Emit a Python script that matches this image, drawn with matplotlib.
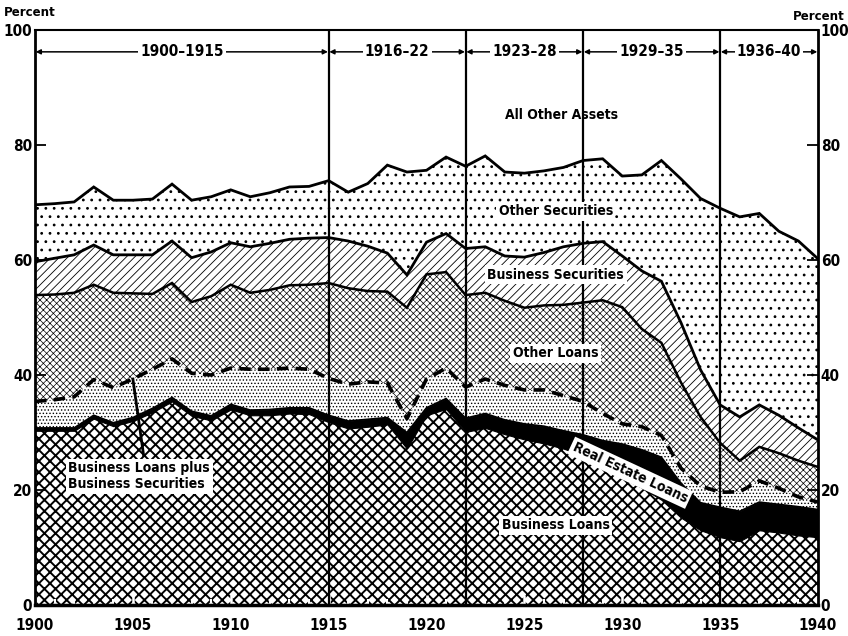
import matplotlib as mpl
mpl.use('Agg')
import matplotlib.pyplot as plt
from matplotlib import font_manager as fm

# ---------------- data (percent of total assets, cumulative boundaries) ----------------
years = list(range(1900, 1941))

business_loans = [30.3, 30.3, 30.3, 32.4, 31.1, 32.0, 33.5, 35.4, 32.9, 32.1,
                  34.0, 33.0, 33.0, 33.3, 33.2, 31.8, 30.7, 31.0, 31.4, 27.2,
                  33.0, 34.1, 30.1, 30.8, 29.7, 28.8, 28.1, 27.2, 26.0, 23.7,
                  22.1, 20.4, 18.3, 15.2, 13.0, 11.8, 11.1, 13.0, 12.6, 12.1, 11.8]

real_estate_top = [30.8, 30.8, 30.8, 33.0, 31.7, 32.6, 34.2, 36.1, 33.7, 32.9,
                   34.9, 33.9, 34.0, 34.3, 34.3, 33.0, 32.0, 32.3, 32.6, 30.0,
                   34.3, 35.9, 32.5, 33.3, 32.2, 31.5, 31.1, 30.3, 29.6, 28.6,
                   28.0, 27.0, 25.7, 21.2, 17.8, 17.0, 16.3, 17.9, 17.5, 17.1, 16.6]

bus_loans_plus_bus_sec = [35.4, 35.7, 36.2, 39.2, 37.8, 39.3, 41.0, 42.8, 40.3, 40.0,
                          41.2, 41.0, 41.0, 41.2, 41.0, 39.4, 38.4, 38.8, 38.6, 32.4,
                          39.3, 41.2, 37.9, 39.3, 38.2, 37.4, 37.4, 36.4, 35.4, 33.3,
                          31.5, 31.0, 29.5, 23.8, 20.7, 19.6, 19.7, 21.6, 20.3, 18.8, 17.9]

other_loans_top = [53.9, 54.0, 54.3, 55.7, 54.3, 54.2, 54.1, 56.0, 52.7, 53.7,
                   55.7, 54.3, 54.8, 55.6, 55.7, 56.0, 55.1, 54.6, 54.5, 51.7,
                   57.5, 57.9, 53.9, 54.3, 52.9, 51.7, 52.1, 52.2, 52.6, 53.0,
                   51.8, 48.0, 45.6, 38.7, 32.7, 28.2, 25.1, 27.5, 26.4, 25.1, 24.0]

business_sec_top = [59.7, 60.3, 60.9, 62.6, 60.9, 60.9, 60.9, 63.3, 60.4, 61.4,
                    63.0, 62.3, 62.9, 63.6, 63.8, 63.9, 63.3, 62.4, 61.2, 57.4,
                    63.1, 64.6, 62.0, 62.3, 60.7, 60.5, 61.3, 62.3, 62.9, 63.2,
                    60.7, 58.1, 56.3, 49.1, 40.9, 34.8, 32.7, 34.8, 33.0, 30.8, 28.7]

other_sec_top = [69.6, 69.8, 70.1, 72.7, 70.4, 70.4, 70.6, 73.2, 70.4, 71.0,
                 72.2, 71.0, 71.7, 72.7, 72.8, 73.8, 71.8, 73.3, 76.5, 75.3,
                 75.6, 77.9, 76.3, 78.1, 75.3, 75.1, 75.5, 76.1, 77.3, 77.6,
                 74.6, 74.8, 77.3, 74.1, 70.7, 69.0, 67.5, 68.1, 65.0, 63.3, 60.2]

period_bounds = [1900, 1915, 1922, 1928, 1935, 1940]
period_labels = ['1900\u20131915', '1916\u201322', '1923\u201328', '1929\u201335', '1936\u201340']
y_ticks = [0, 20, 40, 60, 80, 100]
x_ticks = [1900, 1905, 1910, 1915, 1920, 1925, 1930, 1935, 1940]

# ---------------- fonts ----------------
names = {f.name for f in fm.fontManager.ttflist}
if 'Liberation Sans Narrow' in names:
    FONT, STRETCH, SCALE = 'Liberation Sans Narrow', 'normal', 1.15
elif any(f.name == 'DejaVu Sans' and str(f.stretch).startswith('condensed') for f in fm.fontManager.ttflist):
    FONT, STRETCH, SCALE = 'DejaVu Sans', 'condensed', 1.05
else:
    FONT, STRETCH, SCALE = 'DejaVu Sans', 'normal', 1.0
plt.rcParams['font.family'] = [FONT, 'DejaVu Sans']
plt.rcParams['font.weight'] = 'bold'
plt.rcParams['font.stretch'] = STRETCH

fig = plt.figure(figsize=(8.48, 6.36), dpi=100)
ax = fig.add_axes([35 / 848, 31 / 636, 783 / 848, 575 / 636])
ax.set_xlim(1900, 1940)
ax.set_ylim(0, 100)


def hatched_fill(y1, y2, hatch, hlw, fc='white', ec='black', z=1):
    with mpl.rc_context({'hatch.linewidth': hlw}):
        coll = ax.fill_between(years, y1, y2, facecolor=fc, edgecolor=ec,
                               hatch=hatch, linewidth=0, zorder=z)
    orig = coll.draw

    def draw(renderer, _orig=orig, _lw=hlw):
        with mpl.rc_context({'hatch.linewidth': _lw}):
            _orig(renderer)
    coll.draw = draw
    return coll


zeros = [0] * len(years)
# business loans: heavy crosshatch
hatched_fill(zeros, business_loans, 'xxx', 1.4)
# real estate loans: solid black
ax.fill_between(years, business_loans, real_estate_top, facecolor='black',
                edgecolor='black', linewidth=0.8, zorder=1)
# other loans (below dashed line): light dot screen
hatched_fill(real_estate_top, bus_loans_plus_bus_sec, '.....', 0.6)
# other loans (above dashed line): darker screen
hatched_fill(bus_loans_plus_bus_sec, other_loans_top, 'xxxxx', 0.5)
# business securities: diagonal
hatched_fill(other_loans_top, business_sec_top, '////', 0.6)
# other securities: sparse dots
hatched_fill(business_sec_top, other_sec_top, '..', 0.8)

# boundary lines
for series, lw in [(other_sec_top, 2.0), (business_sec_top, 2.0), (other_loans_top, 1.8),
                   (real_estate_top, 1.2)]:
    ax.plot(years, series, color='black', lw=lw, zorder=3, solid_joinstyle='miter')
ax.plot(years, bus_loans_plus_bus_sec, color='black', lw=2.6, dashes=(3.2, 2.0), zorder=3)

# period separators and labels
for b in period_bounds[1:-1]:
    ax.axvline(b, color='black', lw=1.6, zorder=4)
fs_period = 10.5 * SCALE
for (a, b), lab in zip(zip(period_bounds[:-1], period_bounds[1:]), period_labels):
    ax.annotate('', xy=(b, 96.2), xytext=(a, 96.2),
                arrowprops=dict(arrowstyle='<|-|>', color='black', lw=1.1,
                                shrinkA=0.5, shrinkB=0.5, mutation_scale=7), zorder=5)
    ax.text((a + b) / 2, 96.2, lab, ha='center', va='center', fontsize=fs_period,
            fontweight='bold', zorder=6,
            bbox=dict(facecolor='white', edgecolor='none', pad=1.5))

# area labels
fs = 9.5 * SCALE
box = dict(facecolor='white', edgecolor='none', pad=1.8)
ax.text(1926.9, 85.2, 'All Other Assets', ha='center', va='center', fontsize=fs, zorder=6)
ax.text(1926.6, 68.5, 'Other Securities', ha='center', va='center', fontsize=fs, zorder=6, bbox=box)
ax.text(1926.6, 57.4, 'Business Securities', ha='center', va='center', fontsize=fs, zorder=6, bbox=box)
ax.text(1926.6, 43.8, 'Other Loans', ha='center', va='center', fontsize=fs, zorder=6, bbox=box)
ax.text(1926.6, 13.9, 'Business Loans', ha='center', va='center', fontsize=fs, zorder=6, bbox=box)
ax.text(1930.4, 23.0, 'Real Estate Loans', ha='center', va='center', fontsize=fs,
        rotation=-25, rotation_mode='anchor', zorder=6, bbox=box)
ax.text(1901.7, 22.4, 'Business Loans plus\nBusiness Securities', ha='left', va='center',
        fontsize=fs, zorder=6, linespacing=1.15, bbox=box)
# pointer from label to dashed line
ax.plot([1905.0, 1905.55], [bus_loans_plus_bus_sec[5], 26.0], color='black', lw=2.0, zorder=5)

# axes styling
for side, lw in [('left', 2.0), ('right', 2.0), ('top', 1.5), ('bottom', 2.5)]:
    ax.spines[side].set_linewidth(lw)
    ax.spines[side].set_zorder(7)
ax.set_yticks(y_ticks)
ax.set_yticklabels([str(v) for v in y_ticks])
ax.set_xticks(x_ticks)
ax.set_xticklabels([str(v) for v in x_ticks])
ax.set_xticks(years, minor=True)
ax.tick_params(axis='y', which='major', direction='in', length=8, width=1.3,
               left=True, right=True, labelleft=True, labelright=True,
               labelsize=10.5 * SCALE, pad=2)
ax.tick_params(axis='x', which='major', direction='in', length=7, width=1.8, color='white',
               labelcolor='black', labelsize=10.5 * SCALE, pad=9)
ax.tick_params(axis='x', which='minor', direction='in', length=4, width=1.5, color='white')
for t in ax.get_xticklabels() + ax.get_yticklabels():
    t.set_fontweight('bold')
ax.set_axisbelow(False)

fig.text(4 / 848, 1 - 13 / 636, 'Percent', ha='left', va='center', fontsize=9 * SCALE,
         fontweight='bold')
fig.text(845 / 848, 1 - 16 / 636, 'Percent', ha='right', va='center', fontsize=9 * SCALE,
         fontweight='bold')

fig.savefig('out.png', dpi=100, facecolor='white')
